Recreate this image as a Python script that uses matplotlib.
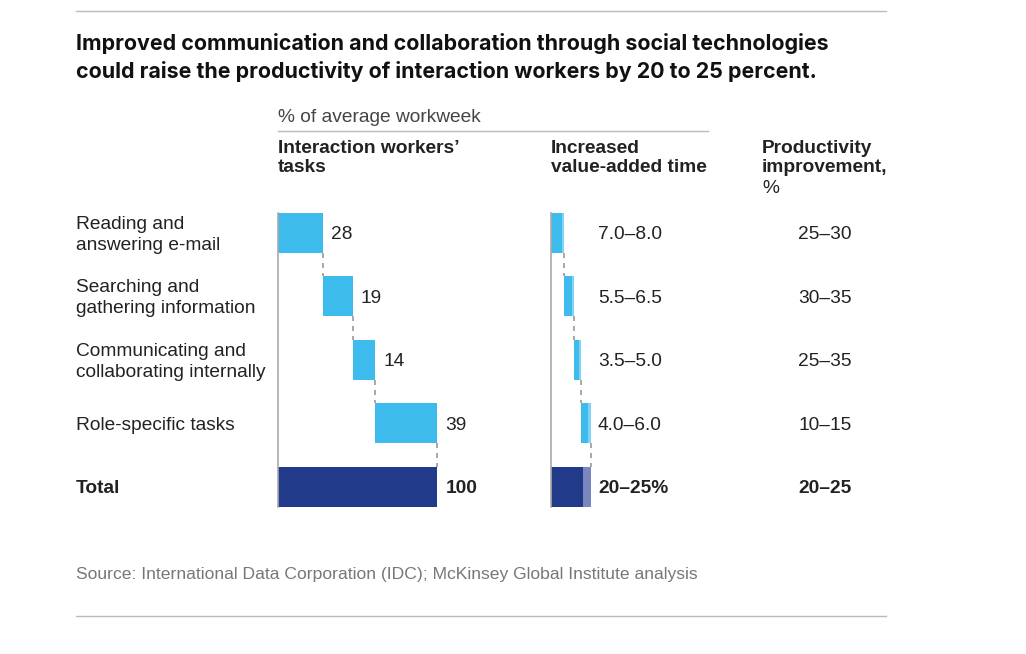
import numpy as np
import matplotlib.pyplot as plt
from matplotlib.lines import Line2D

# data
rows = ["Reading and\nanswering e-mail", "Searching and\ngathering information",
        "Communicating and\ncollaborating internally", "Role-specific tasks"]
task_share = [28, 19, 14, 39]
task_total = 100
vat_low = [7.0, 5.5, 3.5, 4.0]
vat_high = [8.0, 6.5, 5.0, 6.0]
vat_labels = ["7.0\u20138.0", "5.5\u20136.5", "3.5\u20135.0", "4.0\u20136.0"]
vat_total_low, vat_total_high = 20, 25
vat_total_label = "20\u201325%"
prod_labels = ["25\u201330", "30\u201335", "25\u201335", "10\u201315"]
prod_total_label = "20\u201325"

W, H = 1026, 654
LIGHT = "#3dbbec"
LIGHTER = "#7fd3f4"
NAVY = "#223a8a"
NAVY_LT = "#7c86be"
TXT = "#222222"
BODY = "Liberation Sans"
TITLE = "Inter"
FS = 13.8

fig = plt.figure(figsize=(W / 100, H / 100), dpi=100)


def fx(x):
    return x / W


def fy(y):
    return 1 - y / H


def ftext(x, y, s, dy=2, **kw):
    kw.setdefault("family", BODY)
    kw.setdefault("fontsize", FS)
    kw.setdefault("color", TXT)
    kw.setdefault("va", "center")
    fig.text(fx(x), fy(y + dy), s, **kw)


# rules
fig.add_artist(Line2D([fx(76), fx(886)], [fy(11), fy(11)], color="#bbbbbb", lw=1))
fig.add_artist(Line2D([fx(76), fx(886)], [fy(616), fy(616)], color="#bbbbbb", lw=1))
fig.add_artist(Line2D([fx(278), fx(708)], [fy(131), fy(131)], color="#bbbbbb", lw=1))

# title
ftext(76, 43, "Improved communication and collaboration through social technologies",
      dy=0, family=TITLE, fontsize=15.4, fontweight="bold", color="#111111")
ftext(76, 71, "could raise the productivity of interaction workers by 20 to 25 percent.",
      dy=0, family=TITLE, fontsize=15.4, fontweight="bold", color="#111111")

ftext(278, 116, "% of average workweek", color="#444444")
ftext(278, 146, "Interaction workers\u2019", fontweight="bold")
ftext(278, 166, "tasks", fontweight="bold")
ftext(551, 146, "Increased", fontweight="bold")
ftext(551, 166, "value-added time", fontweight="bold")
ftext(762, 146, "Productivity", fontweight="bold")
ftext(762, 166, "improvement,", fontweight="bold")
ftext(762, 187, "%")

ftext(76, 573, "Source: International Data Corporation (IDC); McKinsey Global Institute analysis",
      color="#777777", fontsize=12.6)

# geometry of bar area
px_per_unit = 1.594
row_h = 63.5
bar_h = 40 / row_h
top_px = 212.7
n = len(rows) + 1
y_span = n - 1 + bar_h
ax_h_px = y_span * row_h
ypos = np.arange(n)


def make_ax(left_px, xmax):
    ax = fig.add_axes([fx(left_px), fy(top_px + ax_h_px), xmax * px_per_unit / W, ax_h_px / H])
    ax.set_xlim(0, xmax)
    ax.set_ylim(n - 1 + bar_h / 2, -bar_h / 2)
    ax.axis("off")
    ax.plot([0, 0], [-bar_h / 2, n - 1 + bar_h / 2], color="#aaaaaa", lw=1.2, clip_on=False)
    return ax


# column 1: waterfall of tasks
ax1 = make_ax(278, task_total)
starts = np.concatenate([[0], np.cumsum(task_share)[:-1]])
ax1.barh(ypos[:-1], task_share, left=starts, height=bar_h, color=LIGHT)
ax1.barh(ypos[-1], task_total, height=bar_h, color=NAVY)
ends = starts + np.array(task_share)
for i, e in enumerate(ends):
    ax1.plot([e, e], [i + bar_h / 2, i + 1 - bar_h / 2], color="#999999", lw=1.2,
             ls=(0, (3, 3)), clip_on=False)

# column 2: increased value-added time
ax2 = make_ax(551, vat_total_high)
scale = vat_total_high / sum(vat_high)
vs = np.concatenate([[0], np.cumsum(vat_high)[:-1]]) * scale
for i in range(len(rows)):
    lo = vat_low[i] * scale
    hi = vat_high[i] * scale
    ax2.barh(i, lo, left=vs[i], height=bar_h, color=LIGHT)
    ax2.barh(i, hi - lo, left=vs[i] + lo, height=bar_h, color=LIGHTER)
    e = vs[i] + hi
    ax2.plot([e, e], [i + bar_h / 2, i + 1 - bar_h / 2], color="#999999", lw=1.2,
             ls=(0, (3, 3)), clip_on=False)
ax2.barh(n - 1, vat_total_low, height=bar_h, color=NAVY)
ax2.barh(n - 1, vat_total_high - vat_total_low, left=vat_total_low, height=bar_h, color=NAVY_LT)

# row labels and value columns
for i in range(n):
    yc = top_px + bar_h * row_h / 2 + i * row_h
    if i < len(rows):
        ftext(76, yc, rows[i], linespacing=1.3)
        ftext(278 + ends[i] * px_per_unit + 8, yc, str(task_share[i]))
        ftext(598, yc, vat_labels[i])
        ftext(825, yc, prod_labels[i], ha="center")
    else:
        ftext(76, yc, "Total", fontweight="bold")
        ftext(278 + task_total * px_per_unit + 8, yc, str(task_total), fontweight="bold")
        ftext(598, yc, vat_total_label, fontweight="bold")
        ftext(825, yc, prod_total_label, ha="center", fontweight="bold")

fig.savefig("out.png", dpi=100)
